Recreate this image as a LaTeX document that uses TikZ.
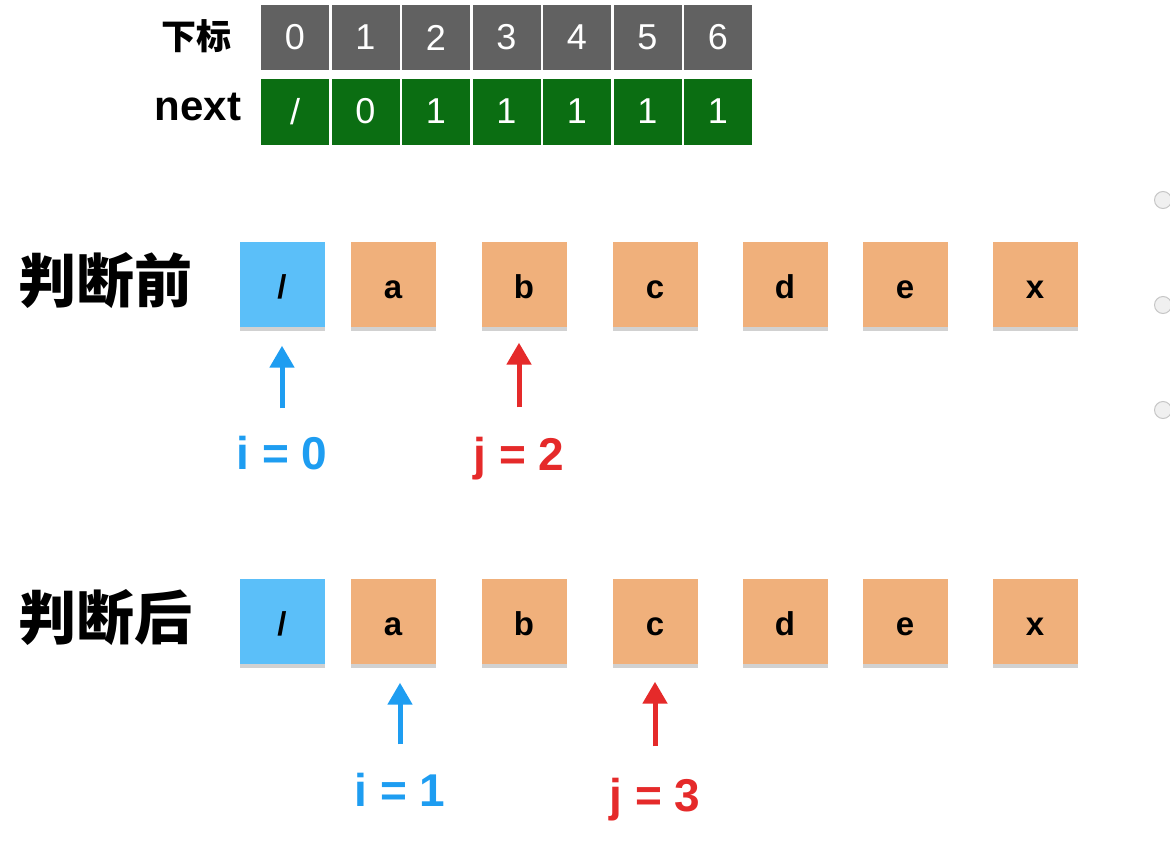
\documentclass[tikz,border=0pt]{standalone}
\usepackage{fontspec}
\setmainfont{Liberation Sans}
\newfontfamily\cjk{Noto Sans CJK SC}
\usetikzlibrary{arrows.meta, shadows}
\definecolor{cellgray}{HTML}{616161}
\definecolor{cellgreen}{HTML}{0B6E12}
\definecolor{headblue}{HTML}{5BBFF9}
\definecolor{elemorange}{HTML}{F0B07B}
\definecolor{ptrblue}{HTML}{1E9DF1}
\definecolor{ptrred}{HTML}{E52A2A}

\begin{document}
\begin{tikzpicture}[x=1pt, y=-1pt,
        idx/.style={rectangle, fill=cellgray, text=white, inner sep=0pt,
                    minimum width=68pt, minimum height=65pt,
                    font=\fontsize{36}{36}\selectfont},
        nxt/.style={idx, fill=cellgreen, minimum height=66pt},
        elem/.style={rectangle, fill=elemorange, minimum size=85pt, inner sep=0pt,
                     text height=28pt, text depth=0pt,
                     font=\bfseries\fontsize{33}{33}\selectfont,
                     drop shadow={shadow xshift=0pt, shadow yshift=-4pt,
                                  opacity=0.18, fill=black}},
        head/.style={elem, fill=headblue},
        title/.style={font=\cjk\bfseries\fontsize{58}{58}\selectfont},
        ptr/.style={anchor=base, inner sep=0pt, font=\bfseries\fontsize{46}{46}\selectfont},
        parr/.style={-{Triangle[length=22pt,width=24pt]}, line width=5pt}]
      \useasboundingbox (0,0) rectangle (1170,862);
      % index / next table
      \node[font=\cjk\bfseries\fontsize{35}{35}\selectfont] (lidx) at (196,36) {下标};
      \node[font=\bfseries\fontsize{42}{42}\selectfont] (lnxt) at (198,107) {next};
      \foreach \v [count=\k from 0] in {0,...,6}
        \node[idx] (idx\k) at ({295+70.5*\k},37.5) {\v};
      \foreach \v [count=\k from 0] in {/,0,1,1,1,1,1}
        \node[nxt] (nxt\k) at ({295+70.5*\k},111.5) {\v};
      % before
      \node[title] (tbefore) at (105,281) {判断前};
      \node[head] (b0) at (282,284) {/};
      \foreach \x/\v [count=\k] in {393/a,524/b,655/c,785/d,905/e,1035/x}
        \node[elem] (b\k) at (\x,284) {\v};
      \node[ptr, text=ptrblue] (i0) at (282,469) {i = 0};
      \node[ptr, text=ptrred] (j2) at (519,470) {j = 2};
      \draw[parr, ptrblue, shorten <=27pt, shorten >=19pt] (i0.north) -- (i0.north |- b0.south);
      \draw[parr, ptrred, shorten <=29pt, shorten >=16pt] (j2.north) -- (j2.north |- b2.south);
      % after
      \node[title] (tafter) at (105,618) {判断后};
      \node[head] (a0) at (282,621) {/};
      \foreach \x/\v [count=\k] in {393/a,524/b,655/c,785/d,905/e,1035/x}
        \node[elem] (a\k) at (\x,621) {\v};
      \node[ptr, text=ptrblue] (i1) at (400,806) {i = 1};
      \node[ptr, text=ptrred] (j3) at (655,811) {j = 3};
      \draw[parr, ptrblue, shorten <=28pt, shorten >=19pt] (i1.north) -- (i1.north |- a1.south);
      \draw[parr, ptrred, shorten <=31pt, shorten >=18pt] (j3.north) -- (j3.north |- a3.south);
      % side dots
      \foreach \y in {200,305,410}
        \draw[fill=gray!12, draw=gray!45, line width=1pt] (1163,\y) circle (8.5);
    \end{tikzpicture}
\end{document}
